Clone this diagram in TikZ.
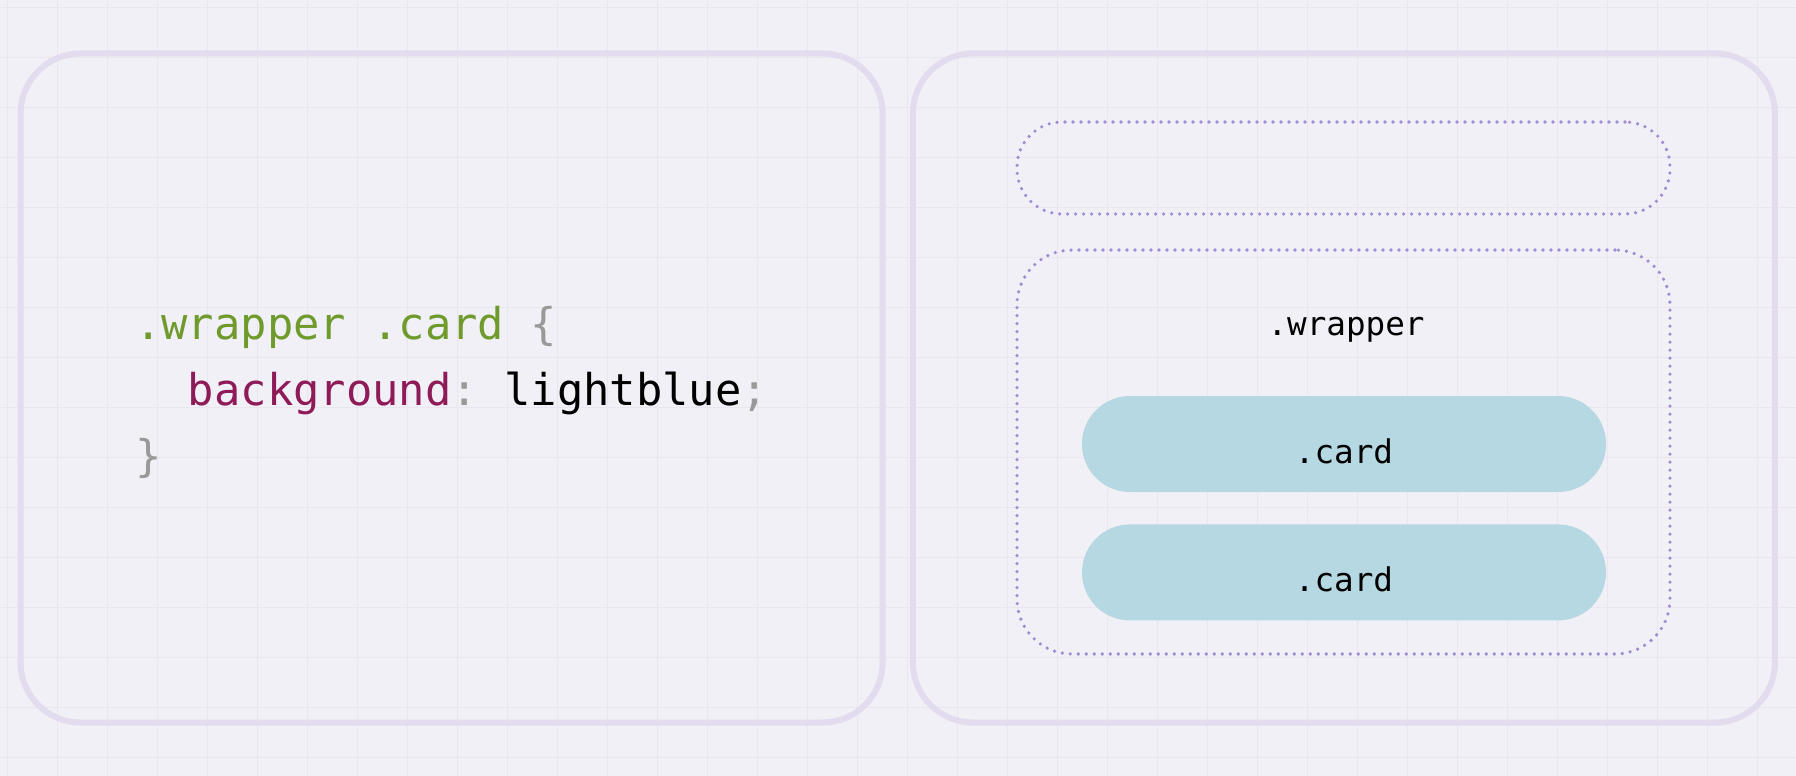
\documentclass[tikz,border=0pt]{standalone}
\usepackage{fontspec}
\setmonofont{DejaVu Sans Mono}
\usepackage{tikz}
\usetikzlibrary{positioning}
\definecolor{bgcol}{HTML}{F1F0F7}
\definecolor{gridcol}{HTML}{E9E6F0}
\definecolor{panelcol}{HTML}{E2DCEE}
\definecolor{dotcol}{HTML}{A08CD0}
\definecolor{cardcol}{HTML}{B6D8E3}
\definecolor{selcol}{HTML}{6F9A2C}
\definecolor{propcol}{HTML}{8E1A58}
\definecolor{punctcol}{HTML}{999999}

\begin{document}
\begin{tikzpicture}[%
	x=1pt, y=-1pt,
	node distance=32pt,
	panel/.style={draw=panelcol, line width=6pt, rounded corners=60pt,
		minimum width=862pt, minimum height=669pt, inner sep=0pt},
	box/.style={draw=dotcol, line width=3.6pt, line cap=round,
		dash pattern=on 0pt off 8pt, rounded corners=#1,
		minimum width=653pt, inner sep=0pt},
	card/.style={fill=cardcol, rounded corners=47.9pt,
		minimum width=524pt, minimum height=96pt, inner sep=0pt},
	code/.style={anchor=base west, inner sep=0pt, font=\fontsize{43.8}{50}\ttfamily},
	tag/.style={anchor=base, inner sep=0pt, font=\fontsize{32.6}{38}\ttfamily},
	gridline/.style={draw=gridcol, line width=1.4pt}
	]
	\useasboundingbox (0,0) rectangle (1796,776);
	\fill[bgcol] (0,0) rectangle (1796,776);
	\foreach \i in {0,...,35}
		\draw[gridline] ({7.5+50*\i},0) -- ({7.5+50*\i},776);
	\foreach \j in {0,...,15}
		\draw[gridline] (0,{7.5+50*\j}) -- (1796,{7.5+50*\j});
	
	\node[panel] (code) at (451.6,388) {};
	\node[panel] (demo) at (1343.9,388) {};
	
	% code
	\node[code] (l1) at (135,339) {\color{selcol}.wrapper .card \color{punctcol}\{};
	\node[code] (l2) at ([xshift=52.7pt, yshift=-66pt]l1.base west)
		{\color{propcol}background\color{punctcol}: \color{black}lightblue\color{punctcol};};
	\node[code] (l3) at ([yshift=-132pt]l1.base west) {\color{punctcol}\}};
	
	% boxes
	\node[box=45pt, minimum height=92pt] (top) at (1343.5,168) {};
	\node[box=55pt, minimum height=404pt] (wrap) at (1343.5,452) {};
	\node[tag] (wraptag) at (1346,335) {.wrapper};
	
	\node[card] (card1) at (1344,444) {};
	\node[card, below=32pt of card1] (card2) {};
	\node[tag] (cardtag1) at ([yshift=-19pt]card1.center) {.card};
	\node[tag] (cardtag2) at ([yshift=-19pt]card2.center) {.card};
\end{tikzpicture}
\end{document}
